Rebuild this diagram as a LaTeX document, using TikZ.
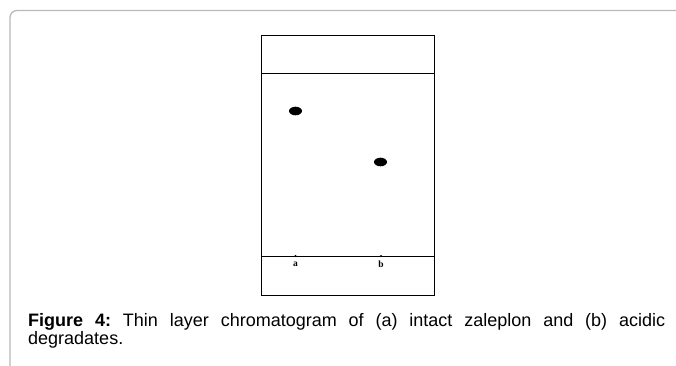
\documentclass[tikz,border=0pt]{standalone}
\usepackage{fontspec}
\setmainfont{Liberation Sans}
\newfontfamily\platefont{Liberation Serif}

\tikzset{
  plateline/.style={line width=0.8pt, draw=black},
  spot/.style={fill=black},
  lanelabel/.style={font=\platefont\bfseries\fontsize{9.5}{10}\selectfont, inner sep=0pt}
}

\begin{document}
\frenchspacing
\begin{tikzpicture}[x=1pt, y=-1pt]
		\useasboundingbox (0,0) rectangle (676,365);
		% outer frame
		\draw [gray!55, line width=1.3pt, rounded corners=7pt] (10,372) -- (10,10.5) -- (682,10.5);
		
		% plate, solvent front and start line
		\draw [plateline] (261,35) rectangle (434,295);
		\draw [plateline] (261,73) -- (434,73);
		\draw [plateline] (261,256) -- (434,256);
		
		% spots
		\fill [spot] (295.5,111) ellipse [x radius=6.5pt, y radius=4.3pt];
		\fill [spot] (380.5,162) ellipse [x radius=6.5pt, y radius=4.3pt];
		\fill [spot] (295.5,256) circle (1.2pt);
		\fill [spot] (381,256) circle (1.2pt);
		
		\node [lanelabel] (laba) at (295.5,264.5) {a};
		\node [lanelabel] (labb) at (381,264) {b};
		
		\node [anchor=north west, text width=637pt, align=justify, inner sep=0pt,
		       font=\fontsize{18}{18}\selectfont] (caption) at (28,313.5)
		  {\textbf{Figure 4:} Thin layer chromatogram of (a) intact zaleplon and (b) acidic\linebreak degradates.};
		
\end{tikzpicture}
\end{document}
